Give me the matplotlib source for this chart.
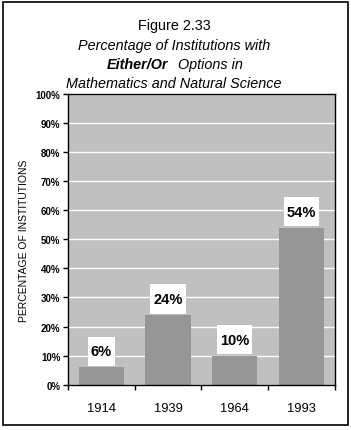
import matplotlib
matplotlib.use("Agg")
import matplotlib.pyplot as plt
from matplotlib.path import Path
from matplotlib.patches import Rectangle
from matplotlib.ticker import FixedLocator, PercentFormatter

years = ["1914", "1939", "1964", "1993"]
values = [6, 24, 10, 54]
value_labels = ["6%", "24%", "10%", "54%"]
yticks = [0, 10, 20, 30, 40, 50, 60, 70, 80, 90, 100]

plt.rcParams['font.family'] = ['Liberation Sans', 'DejaVu Sans']

W, H = 351, 431
fig = plt.figure(figsize=(W / 100, H / 100), dpi=100)

def fx(px):
    return px / W

def fy(py):
    return 1 - py / H

ax = fig.add_axes([fx(68), fy(385.7), fx(334.7) - fx(68), fy(95) - fy(385.7)])
ax.set_facecolor('#C0C0C0')
x = list(range(len(years)))
ax.bar(x, values, width=0.68, color='#969696', zorder=2)
ax.set_xlim(-0.5, len(years) - 0.5)
ax.set_ylim(0, 100)
ax.set_yticks(yticks)
ax.yaxis.set_major_formatter(PercentFormatter(decimals=0))
ax.grid(axis='y', color='white', linewidth=1.0, zorder=1)
ax.set_axisbelow(True)
for s in ax.spines.values():
    s.set_color('black')
    s.set_linewidth(1.0)

ax.set_xticks(x)
ax.set_xticklabels(years, fontsize=9.3)
ax.xaxis.set_minor_locator(FixedLocator([i - 0.5 for i in range(len(years) + 1)]))
ax.tick_params(axis='x', which='major', length=0, pad=12.5)
ax.tick_params(axis='x', which='minor', length=3.5, width=1, direction='out')
ax.tick_params(axis='y', length=3.5, width=1, direction='out', pad=2, labelsize=7)
for lab in ax.get_yticklabels():
    lab.set_fontweight('bold')

ax.set_ylabel('PERCENTAGE OF INSTITUTIONS', fontsize=7.5)
ax.yaxis.set_label_coords((29 - 68) / (334.7 - 68), 0.5)


def label_box(x0, y0, width, height, mutation_size):
    padx = 0.2 * mutation_size
    bh = 2.0 * mutation_size
    cy = y0 + height / 2
    left = x0 - padx
    right = x0 + width + padx
    bottom = cy - bh / 2
    top = cy + bh / 2
    return Path([(left, bottom), (right, bottom), (right, top), (left, top), (left, bottom)],
                [Path.MOVETO, Path.LINETO, Path.LINETO, Path.LINETO, Path.CLOSEPOLY])


for xi, v, lab in zip(x, values, value_labels):
    ax.annotate(lab, xy=(xi, v), xytext=(0, 11.5), textcoords='offset points',
                ha='center', va='center', fontsize=10.5, fontweight='bold', zorder=4,
                bbox=dict(boxstyle=label_box, facecolor='white', edgecolor='none'))

TS = 10.4
fig.text(fx(174), fy(25.7), 'Figure 2.33', ha='center', va='center', fontsize=TS)
fig.text(fx(174), fy(45.7), 'Percentage of Institutions with', ha='center', va='center',
         fontsize=TS, style='italic')
fig.text(fx(168.5), fy(64.7), 'Either/Or', ha='right', va='center', fontsize=TS,
         style='italic', fontweight='bold')
fig.text(fx(178), fy(64.7), 'Options in', ha='left', va='center', fontsize=TS, style='italic')
fig.text(fx(174), fy(83.7), 'Mathematics and Natural Science', ha='center', va='center',
         fontsize=TS, style='italic')

fig.patches.append(Rectangle((fx(2.5), fy(426)), fx(348) - fx(2.5), fy(2.5) - fy(426),
                             transform=fig.transFigure, fill=False, edgecolor='black',
                             linewidth=1.2))

fig.savefig('out.png', dpi=100)
